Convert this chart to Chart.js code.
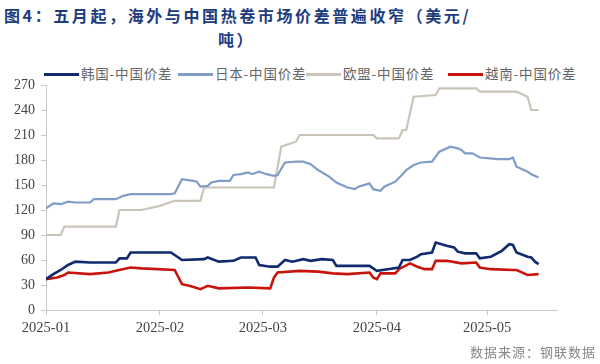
<!DOCTYPE html>
<html><head><meta charset="utf-8">
<script src="https://cdn.jsdelivr.net/npm/chart.js@4/dist/chart.umd.min.js"></script>
<style>
html,body{margin:0;padding:0;background:#fff;}
#wrap{position:relative;width:600px;height:364px;overflow:hidden;background:#fff;}
canvas{position:absolute;left:0;top:0;}
.t{position:absolute;font-family:"Noto Sans CJK SC";font-weight:bold;color:#1d3c80;font-size:16px;letter-spacing:2.6px;white-space:nowrap;line-height:18px;}
.lg{position:absolute;top:65px;height:16px;font-family:"Noto Sans CJK SC";font-size:13.5px;color:#666;white-space:nowrap;line-height:16px;letter-spacing:0.8px;}
.lg i{display:inline-block;width:35px;height:3px;vertical-align:middle;margin-right:2px;position:relative;top:-1px;}
.src{position:absolute;right:4px;top:342px;font-family:"Noto Sans CJK SC";font-size:13px;color:#888;letter-spacing:1px;}
</style></head>
<body><div id="wrap">
<div class="t" style="left:4px;top:6px;">图4：五月起，海外与中国热卷市场价差普遍收窄（美元/</div>
<div class="t" style="left:218px;top:30px;">吨）</div>
<div id="legend"></div>
<canvas id="c" width="600" height="364"></canvas>
<div class="src">数据来源：钢联数据</div>
</div>
<script>
// ---- data (MM-DD in 2025, USD/t) ----
const seriesNames = ["韩国-中国价差","日本-中国价差","欧盟-中国价差","越南-中国价差"];
const koreaDates = ["01-01","01-02","01-03","01-05","01-07","01-09","01-13","01-20","01-21","01-23","01-24","02-04","02-07","02-13","02-14","02-17","02-21","02-23","02-27","02-28","03-03","03-05","03-07","03-09","03-12","03-14","03-17","03-20","03-21","03-30","04-01","04-04","04-07","04-08","04-10","04-12","04-13","04-16","04-17","04-20","04-22","04-23","04-25","04-28","04-29","05-02","05-05","05-07","05-08","05-09","05-12","05-13","05-14","05-15"];
const koreaValues = [37,40,43,48,54,58,57,57,62,62,69,69,60,61,63,58,59,63,63,54,52,52,60,58,61,59,61,60,53,53,47,49,51,60,60,64,67,69,81,77,75,70,68,68,62,64,71,79,78,69,64,63,58,55];
const japanDates = ["01-01","01-03","01-05","01-07","01-09","01-13","01-14","01-20","01-22","01-24","02-04","02-05","02-07","02-10","02-11","02-12","02-14","02-15","02-17","02-20","02-21","02-23","02-25","02-26","02-28","03-02","03-04","03-05","03-07","03-10","03-12","03-14","03-16","03-19","03-21","03-24","03-26","03-27","03-30","03-31","04-02","04-03","04-06","04-08","04-09","04-11","04-13","04-16","04-18","04-21","04-23","04-24","04-25","04-27","04-29","05-04","05-07","05-08","05-09","05-12","05-13","05-15"];
const japanValues = [122,128,127,130,129,129,133,133,137,139,139,140,157,155,154,148,149,153,155,155,162,163,165,163,166,163,161,162,177,178,178,175,168,160,153,147,145,148,152,145,143,148,154,163,168,174,177,178,190,196,194,192,188,188,183,181,181,183,172,166,163,159];
const euDates = ["01-01","01-05","01-06","01-20","01-21","01-27","02-01","02-05","02-12","02-13","03-04","03-06","03-10","03-11","03-31","04-01","04-07","04-08","04-09","04-11","04-17","04-18","04-28","04-29","05-09","05-12","05-13","05-15"];
const euValues = [90,90,100,100,120,120,125,131,131,147,147,196,202,210,210,206,206,216,216,256,258,266,266,262,262,256,240,240];
const vietnamDates = ["01-01","01-04","01-06","01-07","01-13","01-18","01-20","01-24","01-27","02-05","02-07","02-09","02-12","02-14","02-17","02-25","03-03","03-04","03-05","03-11","03-16","03-20","03-24","03-30","03-31","04-01","04-02","04-06","04-07","04-10","04-12","04-14","04-16","04-17","04-20","04-24","04-28","04-29","05-02","05-08","05-09","05-12","05-15"];
const vietnamValues = [37,39,42,45,43,45,47,51,50,48,31,29,25,29,26,27,26,39,45,47,46,44,43,45,39,37,44,44,49,56,52,49,49,59,59,56,57,51,49,48,48,42,43];
const xTickDates = ["01-01","02-01","03-01","04-01","05-01"];
const xTickLabels = ["2025-01","2025-02","2025-03","2025-04","2025-05"];
const yTicks = [0,30,60,90,120,150,180,210,240,270];
const xEndDate = "05-20";

const colors = ["#0f2a6e","#7f9dc6","#cbc5b9","#c8140c"];
const widths = [2.6,2.2,2.2,2.6];

function dayOf(md){const [m,d]=md.split("-").map(Number);return (Date.UTC(2025,m-1,d)-Date.UTC(2025,0,1))/86400000;}
function pts(ds,vs){return ds.map((d,i)=>({x:dayOf(d),y:vs[i]}));}
const allDates=[koreaDates,japanDates,euDates,vietnamDates];
const allVals=[koreaValues,japanValues,euValues,vietnamValues];

// HTML legend
const lgPos=[44,178,306,448];
const lg=document.getElementById('legend');
seriesNames.forEach((n,i)=>{const d=document.createElement('div');d.className='lg';d.style.left=lgPos[i]+'px';
 d.innerHTML='<i style="background:'+colors[i]+'"></i>'+n;lg.appendChild(d);});

const tickVals=xTickDates.map(dayOf);
const serif='"Liberation Serif","DejaVu Serif",serif';
new Chart(document.getElementById('c'),{
 type:'line',
 data:{datasets:seriesNames.map((n,i)=>({label:n,data:pts(allDates[i],allVals[i]),borderColor:colors[i],backgroundColor:colors[i],borderWidth:widths[i],pointRadius:0,tension:0,fill:false}))},
 options:{
  responsive:false,animation:false,
  layout:{padding:{left:0,right:43,top:85,bottom:24}},
  plugins:{legend:{display:false},tooltip:{enabled:false}},
  scales:{
   x:{type:'linear',min:0,max:dayOf(xEndDate),
     afterBuildTicks:s=>{s.ticks=tickVals.map(v=>({value:v}));},
     afterFit:s=>{s.height=30;},
     grid:{display:true,drawOnChartArea:false,tickLength:5,color:'#c8c8c8'},
     border:{color:'#c8c8c8',width:1},
     ticks:{autoSkip:false,maxRotation:0,padding:4,color:'#444',font:{family:serif,size:14.5},
       callback:v=>{const k=tickVals.indexOf(v);return k>=0?xTickLabels[k]:'';}}},
   y:{min:0,max:270,
     afterBuildTicks:s=>{s.ticks=yTicks.map(v=>({value:v}));},
     afterFit:s=>{s.width=46;},
     grid:{display:true,drawOnChartArea:false,tickLength:5,color:'#c8c8c8'},
     border:{color:'#c8c8c8',width:1},
     ticks:{padding:6,color:'#444',font:{family:serif,size:14}}}
  }
 }
});
</script>
</body></html>
